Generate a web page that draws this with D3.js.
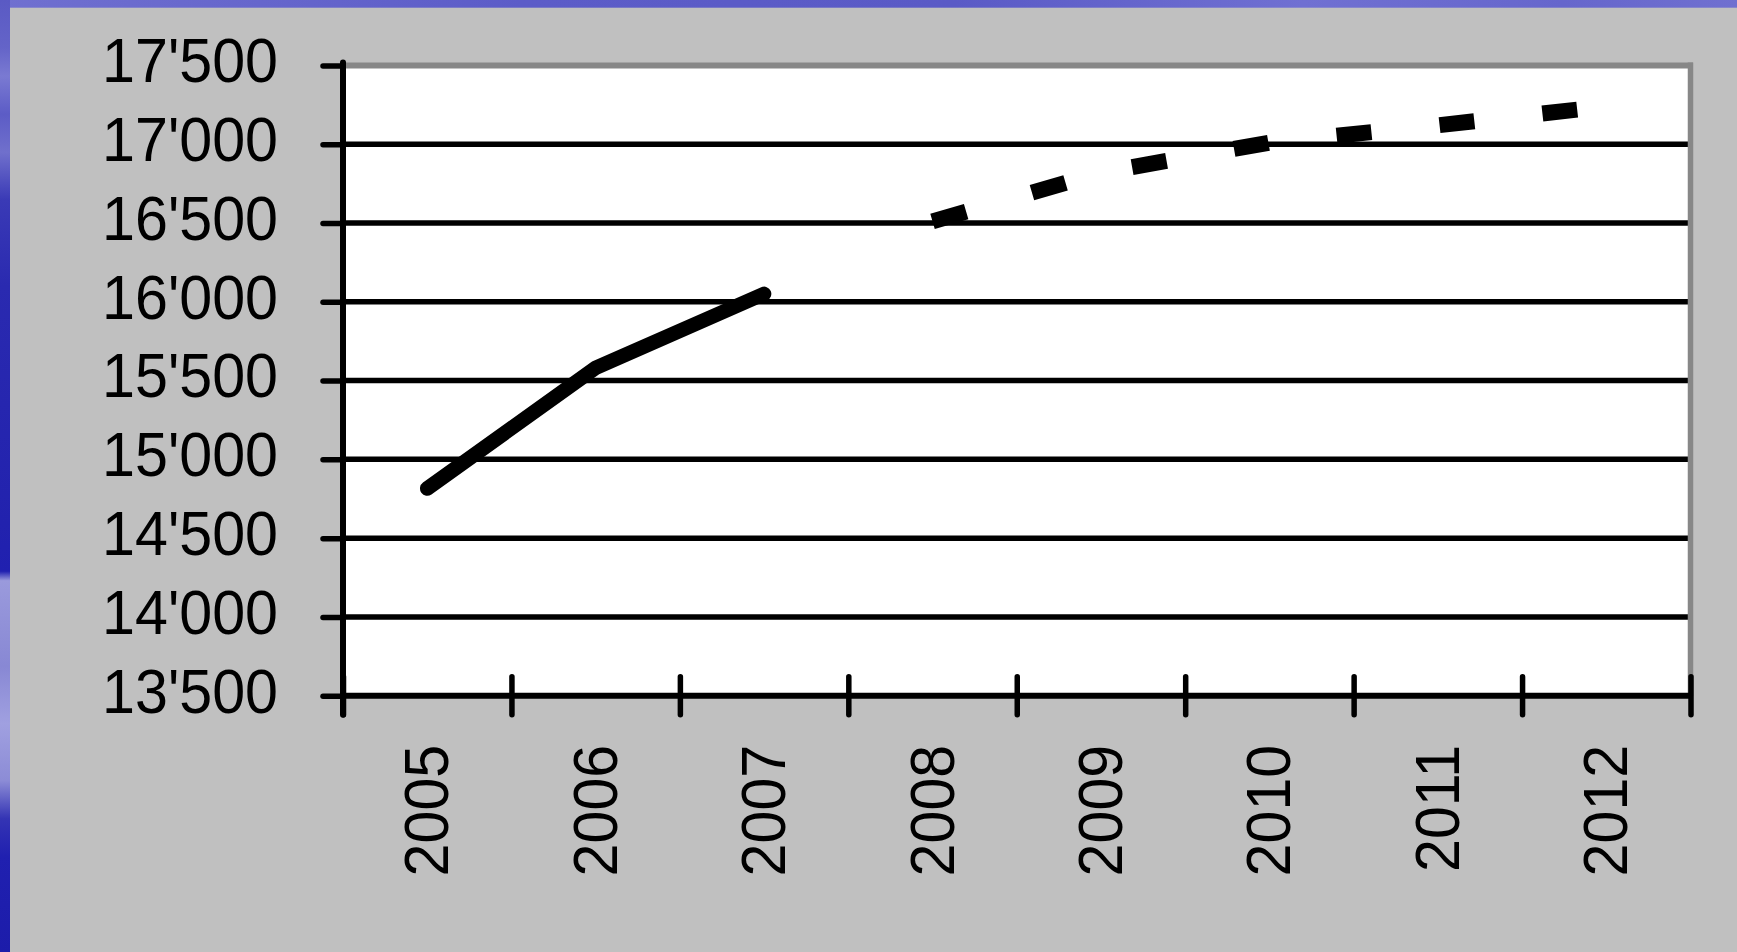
<!DOCTYPE html>
<html>
<head>
<meta charset="utf-8">
<script src="https://cdn.jsdelivr.net/npm/d3@7"></script>
<style>
  html, body { margin: 0; padding: 0; background: #c0c0c0; }
  svg { display: block; }
  text { font-family: "Liberation Sans", Arial, Helvetica, sans-serif; }
</style>
</head>
<body>
<svg id="chart" width="1737" height="952"></svg>
<script>
// ---- data ----
const years = ["2005", "2006", "2007", "2008", "2009", "2010", "2011", "2012"];
const actualYears = ["2005", "2006", "2007"];
const actualValues = [14815, 15580, 16050];
const forecastYears = ["2008", "2009", "2010", "2011", "2012"];
const forecastValues = [16510, 16820, 17010, 17120, 17240];
const yTickValues = [13500, 14000, 14500, 15000, 15500, 16000, 16500, 17000, 17500];

// ---- layout ----
const W = 1737, H = 952;
const plot = { left: 343, right: 1690.5, top: 65.4, bottom: 695.7 };

const svg = d3.select("#chart");

// background frame
const defs = svg.append("defs");
const lg = defs.append("linearGradient").attr("id", "leftStrip")
  .attr("x1", 0).attr("y1", 0).attr("x2", 0).attr("y2", 1);
[[0, "#5a5ac4"], [0.05, "#6464c8"], [0.08, "#7a7ad2"], [0.12, "#5c5cc6"], [0.16, "#7070cc"],
 [0.21, "#3a3ab6"], [0.3, "#2a2ab0"], [0.55, "#2222ae"], [0.6, "#2020b0"], [0.61, "#9a9adc"],
 [0.7, "#8888d4"], [0.76, "#a0a0e0"], [0.82, "#8c8cd6"], [0.86, "#3434b4"], [0.9, "#2020b0"], [1, "#1c1caa"]]
  .forEach(([o, c]) => lg.append("stop").attr("offset", o).attr("stop-color", c));
const tg = defs.append("linearGradient").attr("id", "topStrip")
  .attr("x1", 0).attr("y1", 0).attr("x2", 1).attr("y2", 0);
[[0, "#7070d0"], [0.3, "#5c5cc8"], [0.55, "#5a5ac6"], [0.75, "#7070d2"], [0.9, "#6666cc"], [1, "#7070d0"]]
  .forEach(([o, c]) => tg.append("stop").attr("offset", o).attr("stop-color", c));

svg.append("rect").attr("width", W).attr("height", H).attr("fill", "#c0c0c0");
svg.append("rect").attr("x", 0).attr("y", 0).attr("width", W).attr("height", 7.7).attr("fill", "url(#topStrip)");
svg.append("rect").attr("x", 0).attr("y", 0).attr("width", 10).attr("height", H).attr("fill", "url(#leftStrip)");

// ---- scales ----
const x = d3.scaleBand().domain(years).range([plot.left, plot.right]).padding(0);
const xEdge = d3.scaleLinear().domain([0, years.length]).range([plot.left, plot.right]);
const y = d3.scaleLinear().domain([13500, 17500]).range([plot.bottom, plot.top]);

const fmt = d3.formatLocale({ decimal: ".", thousands: "'", grouping: [3], currency: ["", ""] }).format(",d");

// plot area
svg.append("rect")
  .attr("x", plot.left).attr("y", y(17500))
  .attr("width", plot.right - plot.left).attr("height", y(13500) - y(17500))
  .attr("fill", "#ffffff");

// gridlines
svg.append("g").selectAll("line")
  .data(yTickValues.filter(v => v > 13500 && v < 17500))
  .join("line")
  .attr("x1", plot.left).attr("x2", plot.right)
  .attr("y1", d => y(d)).attr("y2", d => y(d))
  .attr("stroke", "#000").attr("stroke-width", 5.5);

// top & right borders (gray)
svg.append("line")
  .attr("x1", plot.left).attr("x2", plot.right + 2.5)
  .attr("y1", y(17500)).attr("y2", y(17500))
  .attr("stroke", "#878787").attr("stroke-width", 6);
svg.append("line")
  .attr("x1", plot.right).attr("x2", plot.right)
  .attr("y1", y(17500) - 3).attr("y2", y(13500))
  .attr("stroke", "#878787").attr("stroke-width", 5.5);

// Y axis
const yAxis = svg.append("g")
  .attr("transform", `translate(${plot.left},0)`)
  .call(d3.axisLeft(y).tickValues(yTickValues).tickSize(20).tickFormat(fmt));
yAxis.select(".domain").remove();
yAxis.selectAll(".tick line").attr("stroke", "#000").attr("stroke-width", 5.5).attr("stroke-linecap", "round");
yAxis.selectAll(".tick text")
  .attr("x", null).attr("dy", null).attr("y", null)
  .attr("transform", "translate(-65,16.3) scale(0.94,1)")
  .attr("text-anchor", "end")
  .attr("fill", "#000")
  .style("font-size", "63px");
svg.append("line")
  .attr("x1", plot.left).attr("x2", plot.left)
  .attr("y1", y(17500) - 3).attr("y2", plot.bottom + 19)
  .attr("stroke", "#000").attr("stroke-width", 6).attr("stroke-linecap", "round");

// X axis edge ticks
const xTicks = svg.append("g")
  .attr("transform", `translate(0,${plot.bottom})`)
  .call(d3.axisBottom(xEdge).tickValues(d3.range(years.length + 1)).tickSize(19).tickFormat(""));
xTicks.select(".domain").remove();
xTicks.selectAll(".tick line").attr("y1", -19).attr("y2", 19)
  .attr("stroke", "#000").attr("stroke-width", 5.5).attr("stroke-linecap", "round");
svg.append("line")
  .attr("x1", plot.left).attr("x2", plot.right)
  .attr("y1", plot.bottom).attr("y2", plot.bottom)
  .attr("stroke", "#000").attr("stroke-width", 6);

// X labels
const xLabels = svg.append("g")
  .attr("transform", `translate(0,${plot.bottom})`)
  .call(d3.axisBottom(x).tickSize(0));
xLabels.select(".domain").remove();
xLabels.selectAll(".tick text")
  .attr("x", null).attr("y", null).attr("dy", null)
  .attr("transform", "translate(21,49) rotate(-90) scale(0.94,1)")
  .attr("text-anchor", "end")
  .attr("fill", "#000")
  .style("font-size", "63px");

// data lines
const line = d3.line().x(d => x(d[0]) + x.bandwidth() / 2).y(d => y(d[1]));

svg.append("path")
  .datum(d3.zip(actualYears, actualValues))
  .attr("d", line)
  .attr("fill", "none").attr("stroke", "#000").attr("stroke-width", 14.5)
  .attr("stroke-linecap", "round").attr("stroke-linejoin", "miter");

svg.append("path")
  .datum(d3.zip(forecastYears, forecastValues))
  .attr("d", line)
  .attr("fill", "none").attr("stroke", "#000").attr("stroke-width", 16)
  .attr("stroke-dasharray", "35,68.5").attr("stroke-linecap", "butt");
</script>
</body>
</html>
